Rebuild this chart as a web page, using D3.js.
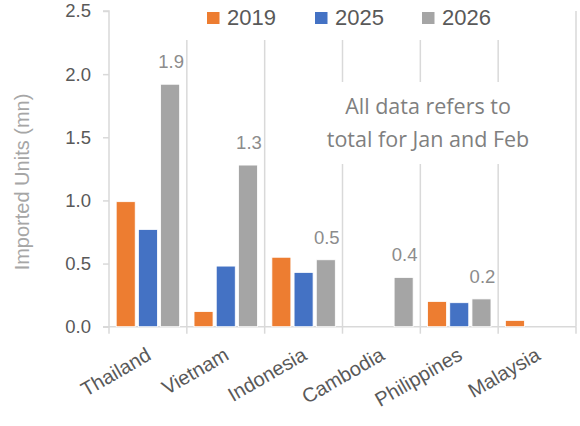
<!DOCTYPE html>
<html><head><meta charset="utf-8">
<script src="https://cdn.jsdelivr.net/npm/d3@7"></script>
<style>body{margin:0;background:#fff;}svg{display:block;}</style>
</head><body>
<svg id="c" width="580" height="426"></svg>
<script>
const categories = ["Thailand","Vietnam","Indonesia","Cambodia","Philippines","Malaysia"];
const seriesNames = ["2019","2025","2026"];
const v2019 = [0.99, 0.12, 0.55, null, 0.20, 0.05];
const v2025 = [0.77, 0.48, 0.43, null, 0.19, null];
const v2026 = [1.92, 1.28, 0.53, 0.39, 0.22, null];
const yTicks = [0, 0.5, 1.0, 1.5, 2.0, 2.5];
const colors = ["#ED7D31", "#4472C4", "#A5A5A5"];
const yTitle = "Imported Units (mn)";
const note = ["All data refers to", "total for Jan and Feb"];

const values = [v2019, v2025, v2026];
const svg = d3.select("#c");
const pL = 109, pR = 576, pT = 11, pB = 326.7;
const x = d3.scaleBand().domain(categories).range([pL, pR]).padding(0);
const x1 = d3.scaleBand().domain(seriesNames).range([0, x.bandwidth()]).paddingInner(0.144).paddingOuter(0.324);
const y = d3.scaleLinear().domain([0, 2.5]).range([pB, pT]);
const grey = "#d9d9d9";
const font = "'Liberation Sans', Arial, sans-serif";

// vertical gridlines at category boundaries
const bounds = categories.map(c => x(c) + x.bandwidth());
svg.append("g").selectAll("line").data(bounds).join("line")
  .attr("x1", d => d).attr("x2", d => d).attr("y1", y(2.5)).attr("y2", y(0))
  .attr("stroke", grey).attr("stroke-width", 1.5);

// white boxes (legend, note)
svg.append("rect").attr("x", 182).attr("y", 0).attr("width", 330).attr("height", 40).attr("fill", "#fff");
svg.append("rect").attr("x", 322).attr("y", 82).attr("width", 212).attr("height", 82).attr("fill", "#fff");

// y axis
const yAxis = d3.axisLeft(y).tickValues(yTicks).tickFormat(d3.format(".1f")).tickSize(6).tickPadding(12);
const gy = svg.append("g").attr("transform", `translate(${pL},0)`).call(yAxis);
gy.select(".domain").attr("stroke", grey).attr("stroke-width", 1.5).attr("d", `M-6,${y(2.5)}H0V${y(0)}H-6`);
gy.selectAll(".tick line").attr("stroke", grey).attr("stroke-width", 1.5);
gy.selectAll(".tick text").attr("fill", "#595959").style("font-family", font).style("font-size", "18.5px");

// x axis
const xAxis = d3.axisBottom(x).tickSize(0).tickFormat("");
const gx = svg.append("g").attr("transform", `translate(0,${pB})`).call(xAxis);
gx.select(".domain").attr("stroke", grey).attr("stroke-width", 1.5).attr("d", `M${pL-6},0H${pR}`);
gx.append("g").selectAll("line").data([pL].concat(bounds)).join("line")
  .attr("x1", d => d).attr("x2", d => d).attr("y1", 0).attr("y2", 7)
  .attr("stroke", grey).attr("stroke-width", 1.5);
gx.append("g").selectAll("text").data(categories).join("text")
  .attr("transform", d => `translate(${x(d) + x.bandwidth()/2 + 1},${26}) rotate(-30)`)
  .attr("text-anchor", "end").attr("dy", "0.35em")
  .attr("fill", "#595959").style("font-family", font).style("font-size", "20px")
  .text(d => d);

// bars
const rows = [];
categories.forEach((c, i) => seriesNames.forEach((s, j) => {
  if (values[j][i] != null) rows.push({c, s, j, v: values[j][i]});
}));
svg.append("g").selectAll("rect").data(rows).join("rect")
  .attr("x", d => x(d.c) + x1(d.s)).attr("width", x1.bandwidth())
  .attr("y", d => y(d.v)).attr("height", d => y(0) - y(d.v))
  .attr("fill", d => colors[d.j]).attr("stroke", "#fff").attr("stroke-width", 0.8);

// labels on 2026
svg.append("g").selectAll("text").data(rows.filter(d => d.s === "2026")).join("text")
  .attr("x", d => x(d.c) + x1(d.s) + x1.bandwidth()/2 + 1).attr("y", d => y(d.v) - 16)
  .attr("text-anchor", "middle").attr("fill", "#8c8c8c")
  .style("font-family", font).style("font-size", "18.5px")
  .text(d => d3.format(".1f")(d.v));

// y title
svg.append("text").attr("transform", `translate(29,${182}) rotate(-90)`)
  .attr("text-anchor", "middle").attr("fill", "#a6a6a6")
  .style("font-family", font).style("font-size", "20px").text(yTitle);

// legend
const legX = [207, 315, 422];
const lg = svg.append("g").selectAll("g").data(seriesNames).join("g")
  .attr("transform", (d, i) => `translate(${legX[i]},0)`);
lg.append("rect").attr("x", 0).attr("y", 12).attr("width", 12.5).attr("height", 12).attr("fill", (d, i) => colors[i]);
lg.append("text").attr("x", 20).attr("y", 25).attr("fill", "#595959")
  .style("font-family", font).style("font-size", "22px").text(d => d);

// note
svg.append("g").selectAll("text").data(note).join("text")
  .attr("x", 428).attr("y", (d, i) => 114 + i * 33).attr("text-anchor", "middle")
  .attr("fill", "#7f7f7f").style("font-family", "'Open Sans', Lato, sans-serif").style("font-size", "21.5px")
  .text(d => d);
</script>
</body></html>
